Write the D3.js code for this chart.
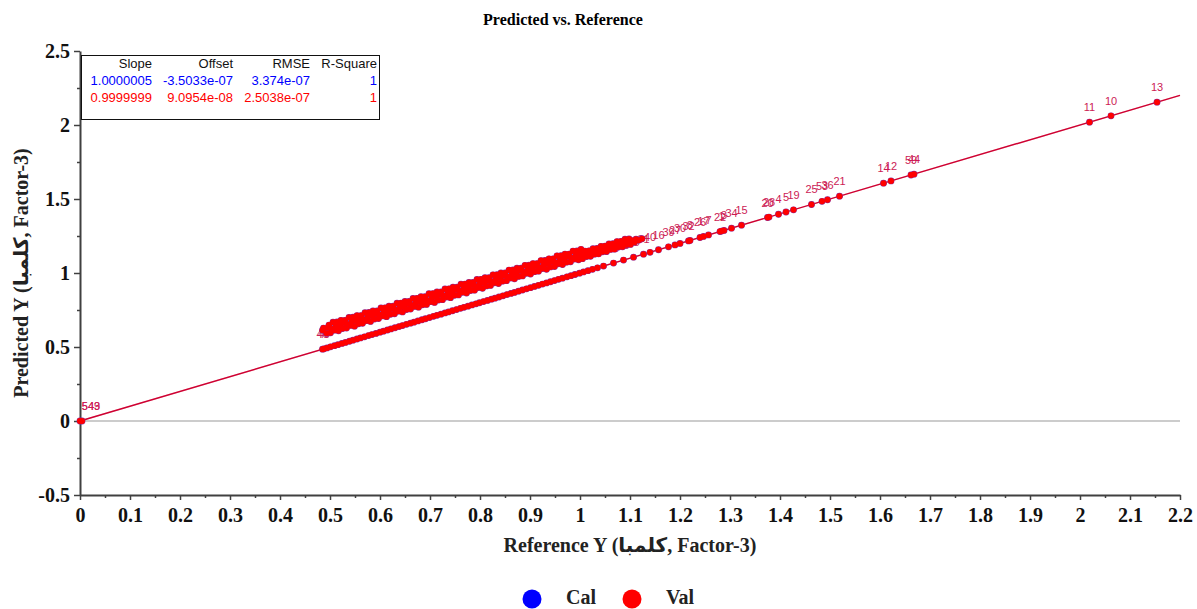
<!DOCTYPE html>
<html>
<head>
<meta charset="utf-8">
<script src="https://cdn.jsdelivr.net/npm/d3@7"></script>
<style>
body { margin: 0; background: #fff; }
.serif { font-family: "Liberation Serif", "Times New Roman", "DejaVu Sans", serif; }
.sans { font-family: "Liberation Sans", Arial, sans-serif; }
</style>
</head>
<body>
<svg id="chart"></svg>
<script>
// tick values / labels
const xMajor = [0, 0.1, 0.2, 0.3, 0.4, 0.5, 0.6, 0.7, 0.8, 0.9, 1, 1.1, 1.2, 1.3, 1.4, 1.5, 1.6, 1.7, 1.8, 1.9, 2, 2.1, 2.2];
const xLabels = ["0", "0.1", "0.2", "0.3", "0.4", "0.5", "0.6", "0.7", "0.8", "0.9", "1", "1.1", "1.2", "1.3", "1.4", "1.5", "1.6", "1.7", "1.8", "1.9", "2", "2.1", "2.2"];
const xMinor = [0.05, 0.15, 0.25, 0.35, 0.45, 0.55, 0.65, 0.75, 0.85, 0.95, 1.05, 1.15, 1.25, 1.35, 1.45, 1.55, 1.65, 1.75, 1.85, 1.95, 2.05, 2.15];
const yMajor = [-0.5, 0, 0.5, 1, 1.5, 2, 2.5];
const yLabels = ["-0.5", "0", "0.5", "1", "1.5", "2", "2.5"];
const yMinor = [-0.25, 0.25, 0.75, 1.25, 1.75, 2.25];

// fit statistics
const statHeaders = ["Slope", "Offset", "RMSE", "R-Square"];
const calStats = ["1.0000005", "-3.5033e-07", "3.374e-07", "1"];
const valStats = ["0.9999999", "9.0954e-08", "2.5038e-07", "1"];
const calSlope = 1.0000005, calOffset = -3.5033e-07;
const valSlope = 0.9999999, valOffset = 9.0954e-08;

// samples at the origin [reference, predicted, id]
const zeroSamples = [[0, 0, "543"], [0.004, 0, "549"]];

// samples along the 1:1 line [reference, predicted, id]
const lineSamples = [
  [0.485, 0.485, "46"], [0.488, 0.488, "49"],
  [0.494, 0.494], [0.501, 0.501], [0.509, 0.509], [0.516, 0.516], [0.524, 0.524], [0.531, 0.531], [0.539, 0.539], [0.546, 0.546],
  [0.554, 0.554], [0.561, 0.561], [0.569, 0.569], [0.577, 0.577], [0.584, 0.584], [0.592, 0.592], [0.600, 0.600], [0.607, 0.607],
  [0.615, 0.615], [0.622, 0.622], [0.630, 0.630], [0.638, 0.638], [0.645, 0.645], [0.653, 0.653], [0.661, 0.661], [0.668, 0.668],
  [0.676, 0.676], [0.684, 0.684], [0.691, 0.691], [0.699, 0.699], [0.707, 0.707], [0.714, 0.714], [0.722, 0.722], [0.730, 0.730],
  [0.737, 0.737], [0.745, 0.745], [0.753, 0.753], [0.761, 0.761], [0.768, 0.768], [0.776, 0.776], [0.784, 0.784], [0.792, 0.792],
  [0.799, 0.799], [0.807, 0.807], [0.815, 0.815], [0.823, 0.823], [0.830, 0.830], [0.838, 0.838], [0.846, 0.846], [0.854, 0.854],
  [0.862, 0.862], [0.869, 0.869], [0.877, 0.877], [0.885, 0.885], [0.893, 0.893], [0.901, 0.901], [0.909, 0.909], [0.917, 0.917],
  [0.925, 0.925], [0.933, 0.933], [0.941, 0.941], [0.949, 0.949], [0.957, 0.957], [0.965, 0.965], [0.974, 0.974], [0.982, 0.982],
  [0.990, 0.990], [0.999, 0.999], [1.007, 1.007], [1.016, 1.016], [1.025, 1.025], [1.035, 1.035],
  [1.047, 1.047, "55"], [1.067, 1.067, "49"], [1.087, 1.087, "23"], [1.107, 1.107, "38"], [1.127, 1.127, "31"],
  [1.140, 1.140, "40"], [1.157, 1.157, "16"], [1.177, 1.177, "39"], [1.190, 1.190, "27"], [1.200, 1.200, "30"],
  [1.217, 1.217, "32"], [1.220, 1.220, "8"], [1.240, 1.240, "26"], [1.247, 1.247, "17"], [1.257, 1.257, "7"],
  [1.280, 1.280, "22"], [1.283, 1.283, "1"], [1.288, 1.288, "3"], [1.303, 1.303, "34"], [1.323, 1.323, "15"],
  [1.375, 1.375, "20"], [1.378, 1.378, "28"], [1.397, 1.397, "4"], [1.412, 1.412, "5"], [1.427, 1.427, "19"],
  [1.463, 1.463, "25"], [1.484, 1.484, "53"], [1.495, 1.495, "36"], [1.519, 1.519, "21"],
  [1.607, 1.607, "14"], [1.622, 1.622, "12"], [1.662, 1.662, "59"], [1.668, 1.668, "44"],
  [2.019, 2.019, "11"], [2.062, 2.062, "10"], [2.154, 2.154, "13"]
];

// upper cluster [reference, predicted]
const bandSamples = [
  [0.485, 0.614], [0.487, 0.628],
  [0.493, 0.593], [0.496, 0.631], [0.498, 0.648],
  [0.501, 0.596], [0.504, 0.622], [0.506, 0.668],
  [0.509, 0.614], [0.512, 0.642], [0.514, 0.669],
  [0.517, 0.609], [0.520, 0.646], [0.522, 0.680],
  [0.525, 0.625], [0.528, 0.663], [0.530, 0.680],
  [0.533, 0.628], [0.536, 0.654], [0.538, 0.700],
  [0.541, 0.646], [0.544, 0.674], [0.546, 0.701],
  [0.549, 0.641], [0.552, 0.678], [0.554, 0.712],
  [0.557, 0.657], [0.560, 0.695], [0.562, 0.712],
  [0.565, 0.660], [0.568, 0.686], [0.570, 0.732],
  [0.573, 0.678], [0.576, 0.706], [0.578, 0.733],
  [0.581, 0.673], [0.584, 0.710], [0.586, 0.744],
  [0.589, 0.689], [0.592, 0.727], [0.594, 0.744],
  [0.597, 0.692], [0.600, 0.718], [0.602, 0.764],
  [0.605, 0.710], [0.608, 0.738], [0.610, 0.765],
  [0.613, 0.705], [0.616, 0.742], [0.618, 0.776],
  [0.621, 0.721], [0.624, 0.759], [0.626, 0.776],
  [0.629, 0.724], [0.632, 0.750], [0.634, 0.796],
  [0.637, 0.742], [0.640, 0.770], [0.642, 0.797],
  [0.645, 0.737], [0.648, 0.774], [0.650, 0.808],
  [0.653, 0.753], [0.656, 0.791], [0.658, 0.808],
  [0.661, 0.756], [0.664, 0.782], [0.666, 0.828],
  [0.669, 0.774], [0.672, 0.802], [0.674, 0.829],
  [0.677, 0.769], [0.680, 0.806], [0.682, 0.840],
  [0.685, 0.785], [0.688, 0.823], [0.690, 0.840],
  [0.693, 0.788], [0.696, 0.814], [0.698, 0.860],
  [0.701, 0.806], [0.704, 0.834], [0.706, 0.861],
  [0.709, 0.801], [0.712, 0.838], [0.714, 0.872],
  [0.717, 0.817], [0.720, 0.855], [0.722, 0.872],
  [0.725, 0.820], [0.728, 0.846], [0.730, 0.892],
  [0.733, 0.838], [0.736, 0.866], [0.738, 0.893],
  [0.741, 0.833], [0.744, 0.870], [0.746, 0.904],
  [0.749, 0.849], [0.752, 0.887], [0.754, 0.904],
  [0.757, 0.852], [0.760, 0.878], [0.762, 0.924],
  [0.765, 0.870], [0.768, 0.898], [0.770, 0.925],
  [0.773, 0.865], [0.776, 0.902], [0.778, 0.936],
  [0.781, 0.881], [0.784, 0.919], [0.786, 0.936],
  [0.789, 0.884], [0.792, 0.910], [0.794, 0.956],
  [0.797, 0.902], [0.800, 0.930], [0.802, 0.957],
  [0.805, 0.897], [0.808, 0.934], [0.810, 0.968],
  [0.813, 0.913], [0.816, 0.951], [0.818, 0.968],
  [0.821, 0.916], [0.824, 0.942], [0.826, 0.988],
  [0.829, 0.934], [0.832, 0.962], [0.834, 0.989],
  [0.837, 0.929], [0.840, 0.966], [0.842, 1.000],
  [0.845, 0.945], [0.848, 0.983], [0.850, 1.000],
  [0.853, 0.948], [0.856, 0.974], [0.858, 1.020],
  [0.861, 0.966], [0.864, 0.994], [0.866, 1.021],
  [0.869, 0.961], [0.872, 0.998], [0.874, 1.032],
  [0.877, 0.977], [0.880, 1.015], [0.882, 1.032],
  [0.885, 0.980], [0.888, 1.006], [0.890, 1.052],
  [0.893, 0.998], [0.896, 1.026], [0.898, 1.053],
  [0.901, 0.993], [0.904, 1.030], [0.906, 1.064],
  [0.909, 1.009], [0.912, 1.047], [0.914, 1.064],
  [0.917, 1.012], [0.920, 1.038], [0.922, 1.084],
  [0.925, 1.030], [0.928, 1.058], [0.930, 1.085],
  [0.933, 1.025], [0.936, 1.062], [0.938, 1.096],
  [0.941, 1.041], [0.944, 1.079], [0.946, 1.096],
  [0.949, 1.044], [0.952, 1.070], [0.954, 1.116],
  [0.957, 1.062], [0.960, 1.090], [0.962, 1.117],
  [0.965, 1.057], [0.968, 1.094], [0.970, 1.128],
  [0.973, 1.073], [0.976, 1.111], [0.978, 1.128],
  [0.981, 1.076], [0.984, 1.102], [0.986, 1.148],
  [0.989, 1.094], [0.992, 1.122], [0.994, 1.149],
  [0.997, 1.089], [1.000, 1.126], [1.002, 1.160],
  [1.005, 1.097], [1.008, 1.123], [1.010, 1.148],
  [1.013, 1.111], [1.016, 1.138], [1.018, 1.150],
  [1.021, 1.113], [1.024, 1.139], [1.026, 1.164],
  [1.029, 1.127], [1.032, 1.154], [1.034, 1.166],
  [1.037, 1.129], [1.040, 1.155], [1.042, 1.180],
  [1.045, 1.143], [1.048, 1.170], [1.050, 1.182],
  [1.053, 1.145], [1.056, 1.171], [1.058, 1.196],
  [1.061, 1.159], [1.064, 1.186], [1.066, 1.198],
  [1.069, 1.161], [1.072, 1.187], [1.074, 1.212],
  [1.077, 1.175], [1.080, 1.202], [1.082, 1.214],
  [1.085, 1.177], [1.088, 1.203], [1.090, 1.228],
  [1.093, 1.191], [1.096, 1.218], [1.098, 1.230],
  [1.101, 1.193], [1.104, 1.219],
  [1.109, 1.207], [1.112, 1.228],
  [1.117, 1.222], [1.124, 1.232]
];

const legendNames = ["Cal", "Val"];
const legendColors = ["#0000ff", "#ff0000"];

const width = 1197;
const height = 609;

const svg = d3.select("#chart")
    .attr("width", width)
    .attr("height", height);

const x = d3.scaleLinear().domain([0, 2.2]).range([80, 1180]);
const y = d3.scaleLinear().domain([-0.5, 2.5]).range([495, 51]);

// title
svg.append("text")
    .attr("class", "serif")
    .attr("x", 563)
    .attr("y", 25)
    .attr("text-anchor", "middle")
    .attr("font-size", 16)
    .attr("font-weight", "bold")
    .text("Predicted vs. Reference");

// axes
const axisColor = "#404040";

const xAxis = svg.append("g")
    .attr("transform", `translate(0,${y(-0.5)})`)
    .call(d3.axisBottom(x).tickValues(xMajor).tickSize(5).tickSizeOuter(0)
        .tickFormat((d, i) => xLabels[i]));
xAxis.selectAll("text")
    .attr("class", "serif")
    .attr("y", 27)
    .attr("dy", null)
    .attr("font-size", 20)
    .attr("font-weight", "bold")
    .attr("fill", "#111");

svg.append("g")
    .attr("transform", `translate(0,${y(-0.5)})`)
    .call(d3.axisBottom(x).tickValues(xMinor).tickSize(3).tickSizeOuter(0).tickFormat(""))
    .call(g => g.select(".domain").remove());

const yAxis = svg.append("g")
    .attr("transform", `translate(${x(0)},0)`)
    .call(d3.axisLeft(y).tickValues(yMajor).tickSize(6).tickPadding(4).tickSizeOuter(0)
        .tickFormat((d, i) => yLabels[i]));
yAxis.selectAll("text")
    .attr("class", "serif")
    .attr("font-size", 20)
    .attr("font-weight", "bold")
    .attr("fill", "#111");

svg.append("g")
    .attr("transform", `translate(${x(0)},0)`)
    .call(d3.axisLeft(y).tickValues(yMinor).tickSize(3).tickSizeOuter(0).tickFormat(""))
    .call(g => g.select(".domain").remove());

svg.selectAll(".domain").attr("stroke", axisColor).attr("stroke-width", 2);
svg.selectAll(".tick line").attr("stroke", axisColor).attr("stroke-width", 1.5);

// axis titles
svg.append("text")
    .attr("class", "serif")
    .attr("x", 630)
    .attr("y", 552)
    .attr("text-anchor", "middle")
    .attr("font-size", 20)
    .attr("font-weight", "bold")
    .attr("fill", "#222")
    .text("Reference Y (كلمبا, Factor-3)");

svg.append("text")
    .attr("class", "serif")
    .attr("transform", `translate(28,${y(1)}) rotate(-90)`)
    .attr("text-anchor", "middle")
    .attr("font-size", 20)
    .attr("font-weight", "bold")
    .attr("fill", "#222")
    .text("Predicted Y (كلمبا, Factor-3)");

// zero line
svg.append("line")
    .attr("x1", x(0))
    .attr("x2", x(2.2))
    .attr("y1", y(0))
    .attr("y2", y(0))
    .attr("stroke", "#9a9a9a")
    .attr("stroke-width", 1.2);

// regression lines (Val underneath, Cal tinting it on top)
const fits = [
    { slope: valSlope, offset: valOffset, color: "#ff0000", opacity: 1 },
    { slope: calSlope, offset: calOffset, color: "#0000ff", opacity: 0.2 }
];
svg.selectAll(".fit-line")
    .data(fits)
    .enter()
    .append("line")
    .attr("class", "fit-line")
    .attr("x1", x(0))
    .attr("y1", d => y(d.offset))
    .attr("x2", x(2.2))
    .attr("y2", d => y(d.slope * 2.2 + d.offset))
    .attr("stroke", d => d.color)
    .attr("stroke-opacity", d => d.opacity)
    .attr("stroke-width", 1.4);

// sample labels (drawn under the markers)
const labelled = zeroSamples.concat(lineSamples).filter(d => d[2]);
svg.selectAll(".sample-label")
    .data(labelled)
    .enter()
    .append("text")
    .attr("class", "sample-label sans")
    .attr("x", d => Math.max(x(d[0]), x(0) + 11))
    .attr("y", d => y(d[1]) - 11)
    .attr("text-anchor", "middle")
    .attr("font-size", 11)
    .attr("fill", "#cc1a55")
    .text(d => d[2]);

// markers: Cal (blue) underneath, Val (red) on top
const allSamples = bandSamples.concat(zeroSamples, lineSamples);
svg.selectAll(".cal-point")
    .data(allSamples)
    .enter()
    .append("circle")
    .attr("class", "cal-point")
    .attr("cx", d => x(d[0]))
    .attr("cy", d => y(d[1]))
    .attr("r", 3.4)
    .attr("fill", "#8a2a9a");

svg.selectAll(".val-point")
    .data(allSamples)
    .enter()
    .append("circle")
    .attr("class", "val-point")
    .attr("cx", d => x(d[0]))
    .attr("cy", d => y(d[1]))
    .attr("r", 3)
    .attr("fill", "#ff0000");

// statistics box
const box = svg.append("g");
box.append("rect")
    .attr("x", 81.5)
    .attr("y", 55.5)
    .attr("width", 298)
    .attr("height", 64)
    .attr("fill", "#fff")
    .attr("stroke", "#111")
    .attr("stroke-width", 1);

const colRight = [152, 233, 310, 377];
const rows = [
    { values: statHeaders, color: "#111", y: 68 },
    { values: calStats, color: "#0000ff", y: 85 },
    { values: valStats, color: "#ff0000", y: 102 }
];
rows.forEach(row => {
    box.selectAll(null)
        .data(row.values)
        .enter()
        .append("text")
        .attr("class", "sans")
        .attr("x", (d, i) => colRight[i])
        .attr("y", row.y)
        .attr("text-anchor", "end")
        .attr("font-size", 13)
        .attr("fill", row.color)
        .text(d => d);
});

// legend
const legend = svg.append("g");
legend.selectAll("circle")
    .data(legendNames)
    .enter()
    .append("circle")
    .attr("cx", (d, i) => 532 + i * 100)
    .attr("cy", 599)
    .attr("r", 9.5)
    .attr("fill", (d, i) => legendColors[i]);
legend.selectAll("text")
    .data(legendNames)
    .enter()
    .append("text")
    .attr("class", "serif")
    .attr("x", (d, i) => 566 + i * 100)
    .attr("y", 604)
    .attr("font-size", 20)
    .attr("font-weight", "bold")
    .attr("fill", "#222")
    .text(d => d);
</script>
</body>
</html>
